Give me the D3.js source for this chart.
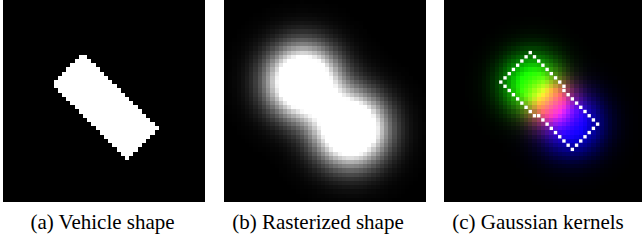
<!DOCTYPE html>
<html><head><meta charset="utf-8">
<script src="https://cdn.jsdelivr.net/npm/d3@7"></script>
<style>
body{margin:0;background:#fff;}
</style>
</head><body><svg id="fig" width="642" height="242"></svg>
<script>
// ---------------- data ----------------
const captions = ["(a) Vehicle shape", "(b) Rasterized shape", "(c) Gaussian kernels"];
const gridCells = d3.range(48);               // 48 x 48 raster
const vehicleCenter = [24.4, 25.1];           // (col,row) in cells
const vehicleSize = [25, 10.6];               // length, width in cells
const vehicleHeading = [45];                  // degrees
const blobOffsets = [-8, 8];                  // rasterized blobs along heading (cells)
const blobSigma = [5.6];
const blobGain = [1.8];
const outlineCenter = [25.2, 24.3];           // outline in panel (c), cell centres
const outlineSize = [23.4, 9.6];              // length, width between dot centres
const kernelChannels = ["g", "r", "b"];
const kernelOffsets = [-6, 0.3, 7];           // along heading (cells)
const kernelSigma = [4.8, 4, 5];
const kernelGain = [1.2, 1.3, 1.2];

// ---------------- layout ----------------
const panelX = [3, 224, 444], panelSize = 202;
const captionX = [102.5, 318, 538];
const svg = d3.select("#fig");

const ang = vehicleHeading[0] * Math.PI / 180;
const ax = [Math.cos(ang), Math.sin(ang)], px = [-Math.sin(ang), Math.cos(ang)];
const cells = [];
gridCells.forEach(r => gridCells.forEach(c => cells.push({c, r})));

function gauss(cx, cy, x, y, s) {
  const d2 = (x - cx) ** 2 + (y - cy) ** 2;
  return Math.exp(-d2 / (2 * s * s));
}
const clamp = v => Math.max(0, Math.min(1, v));

function panel(i) {
  const g = svg.append("g").attr("transform", `translate(${panelX[i]},0)`);
  const x = d3.scaleBand().domain(gridCells).range([0, panelSize]);
  const y = d3.scaleBand().domain(gridCells).range([0, panelSize]);
  g.append("rect").attr("width", panelSize).attr("height", panelSize).attr("fill", "#000");
  return {g, x, y};
}

// (a) vehicle shape
{
  const {g, x, y} = panel(0);
  const inside = cells.filter(d => {
    const dx = d.c + 0.5 - vehicleCenter[0], dy = d.r + 0.5 - vehicleCenter[1];
    const u = dx * ax[0] + dy * ax[1], v = dx * px[0] + dy * px[1];
    return Math.abs(u) <= vehicleSize[0] / 2 && Math.abs(v) <= vehicleSize[1] / 2;
  });
  g.selectAll("rect.cell").data(inside).join("rect").attr("class", "cell")
    .attr("x", d => x(d.c)).attr("y", d => y(d.r))
    .attr("width", x.bandwidth()).attr("height", y.bandwidth())
    .attr("fill", "#fff").attr("shape-rendering", "crispEdges");
}

// (b) rasterized shape
{
  const {g, x, y} = panel(1);
  const centers = blobOffsets.map(o => [vehicleCenter[0] + o * ax[0], vehicleCenter[1] + o * ax[1]]);
  cells.forEach(d => {
    let s = 0;
    centers.forEach(c => s += gauss(c[0], c[1], d.c + 0.5, d.r + 0.5, blobSigma[0]));
    d.b = clamp(blobGain[0] * s);
  });
  g.selectAll("rect.cell").data(cells.filter(d => d.b > 0.004)).join("rect").attr("class", "cell")
    .attr("x", d => x(d.c)).attr("y", d => y(d.r))
    .attr("width", x.bandwidth()).attr("height", y.bandwidth())
    .attr("fill", d => { const k = Math.round(d.b * 255); return `rgb(${k},${k},${k})`; })
    .attr("shape-rendering", "crispEdges");
}

// (c) gaussian kernels
{
  const {g, x, y} = panel(2);
  const centers = kernelOffsets.map(o => [outlineCenter[0] + o * ax[0], outlineCenter[1] + o * ax[1]]);
  cells.forEach(d => {
    const ch = {};
    kernelChannels.forEach((k, j) => ch[k] = clamp(kernelGain[j] * gauss(centers[j][0], centers[j][1], d.c + 0.5, d.r + 0.5, kernelSigma[j])));
    d.col = d3.rgb(ch.r * 255, ch.g * 255, ch.b * 255);
    d.m = Math.max(ch.r, ch.g, ch.b);
  });
  g.selectAll("rect.cell").data(cells.filter(d => d.m > 0.004)).join("rect").attr("class", "cell")
    .attr("x", d => x(d.c)).attr("y", d => y(d.r))
    .attr("width", x.bandwidth()).attr("height", y.bandwidth())
    .attr("fill", d => d.col.formatRgb()).attr("shape-rendering", "crispEdges");

  // outline of the vehicle
  const L = outlineSize[0] / 2, W = outlineSize[1] / 2;
  const corners = [[L, W], [L, -W], [-L, -W], [-L, W]].map(([u, v]) => [
    Math.round(outlineCenter[0] + u * ax[0] + v * px[0] - 0.5),
    Math.round(outlineCenter[1] + u * ax[1] + v * px[1] - 0.5)]);
  const outline = [];
  corners.forEach((p0, k) => {
    const p1 = corners[(k + 1) % 4];
    const dx = p1[0] - p0[0], dy = p1[1] - p0[1];
    const n = Math.max(Math.abs(dx), Math.abs(dy));
    for (let t = 0; t < n; t++) outline.push({c: p0[0] + Math.round(t * dx / n), r: p0[1] + Math.round(t * dy / n)});
  });
  const s = x.bandwidth() * 0.8, off = (x.bandwidth() - s) / 2;
  g.selectAll("rect.dot").data(outline).join("rect").attr("class", "dot")
    .attr("x", d => x(d.c) + off).attr("y", d => y(d.r) + off)
    .attr("width", s).attr("height", s).attr("fill", "#fff");
}

// captions
svg.selectAll("text.cap").data(captions).join("text").attr("class", "cap")
  .attr("x", (d, i) => captionX[i]).attr("y", 229)
  .attr("text-anchor", "middle")
  .style("font-family", "'Liberation Serif', 'Times New Roman', Times, serif")
  .style("font-size", "21px").attr("fill", "#000")
  .text(d => d);
</script>
</body></html>
